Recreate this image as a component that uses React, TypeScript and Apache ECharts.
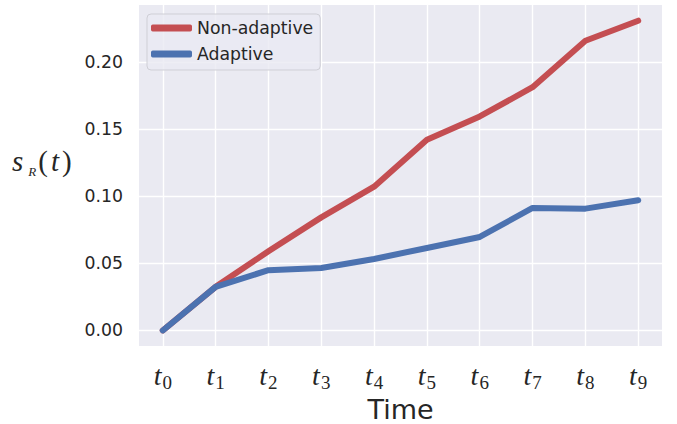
import React, { useEffect, useRef } from "react";
import * as echarts from "echarts";

const timeSteps = [0, 1, 2, 3, 4, 5, 6, 7, 8, 9];
const nonAdaptive = [0, 0.0325, 0.059, 0.0843, 0.1072, 0.1421, 0.1595, 0.1813, 0.216, 0.2309];
const adaptive = [0, 0.0325, 0.0449, 0.0466, 0.0533, 0.0615, 0.0697, 0.0913, 0.0908, 0.097];
const yTicks = [0, 0.05, 0.1, 0.15, 0.2];
const seriesNames = ["Non-adaptive", "Adaptive"];

const TEXT = "#262626";
const SANS = "DejaVu Sans";
const SERIF = "Liberation Serif";

export default function App() {
  const ref = useRef<HTMLDivElement>(null);
  useEffect(() => {
    if (!ref.current) return;
    const chart = echarts.init(ref.current, undefined, { renderer: "svg" });
    const gridLines = [
      ...timeSteps.map((v) => ({ xAxis: v })),
      ...yTicks.map((v) => ({ yAxis: v })),
    ];
    chart.setOption({
      animation: false,
      backgroundColor: "#ffffff",
      grid: {
        left: 139,
        top: 5,
        width: 523,
        height: 341,
        show: true,
        backgroundColor: "#EAEAF2",
        borderWidth: 0,
        containLabel: false,
        outerBoundsMode: "none",
      },
      legend: {
        left: 147,
        top: 14,
        orient: "vertical",
        data: seriesNames,
        icon: "roundRect",
        itemWidth: 41,
        itemHeight: 7,
        itemGap: 6,
        itemTextGap: 16,
        padding: [4, 7, 6, 4],
        backgroundColor: "rgba(234,234,242,0.8)",
        borderColor: "#cfcfd6",
        borderWidth: 1,
        borderRadius: 4,
        textStyle: { fontFamily: SANS, fontSize: 17.3, color: TEXT, lineHeight: 20 },
      },
      xAxis: {
        type: "value",
        min: -0.45,
        max: 9.45,
        name: "Time",
        nameLocation: "middle",
        nameGap: 42,
        nameTextStyle: { fontFamily: SANS, fontSize: 27, color: TEXT },
        axisLine: { show: false },
        axisTick: { show: false },
        splitLine: { show: false },
        axisLabel: {
          customValues: timeSteps,
          margin: 14,
          formatter: (v: number) => `{t|t}{s|${Math.round(v)}}`,
          rich: {
            t: { fontFamily: SERIF, fontStyle: "italic", fontSize: 28, lineHeight: 30, color: TEXT },
            s: { fontFamily: SERIF, fontSize: 19, lineHeight: 19, padding: [14, 0, 0, 1], color: TEXT },
          },
        },
      },
      yAxis: {
        type: "value",
        min: -0.0116,
        max: 0.2426,
        axisLine: { show: false },
        axisTick: { show: false },
        splitLine: { show: false },
        axisLabel: {
          customValues: yTicks,
          margin: 16,
          fontFamily: SANS,
          fontSize: 17.3,
          color: TEXT,
          formatter: (v: number) => v.toFixed(2),
        },
      },
      graphic: [
        {
          type: "text",
          left: 12,
          top: 143,
          style: {
            text: "{s|s}{r|R}{p|(}{t|t}{p|)}",
            rich: {
              s: { fontFamily: SERIF, fontStyle: "italic", fontSize: 29, lineHeight: 32, fill: TEXT, padding: [0, 5, 0, 0] },
              r: { fontFamily: SERIF, fontStyle: "italic", fontSize: 13, lineHeight: 13, padding: [22, 2, 0, 0], fill: TEXT },
              p: { fontFamily: SERIF, fontSize: 29, lineHeight: 32, fill: TEXT },
              t: { fontFamily: SERIF, fontStyle: "italic", fontSize: 29, lineHeight: 32, fill: TEXT, padding: [0, 3, 0, 3] },
            },
          },
        },
      ],
      series: [
        {
          type: "line",
          name: "__grid",
          data: [[0, 0]],
          symbol: "none",
          lineStyle: { opacity: 0 },
          z: 1,
          silent: true,
          markLine: {
            z: 1,
            silent: true,
            symbol: ["none", "none"],
            label: { show: false },
            lineStyle: { color: "#ffffff", width: 1.4, type: "solid" },
            emphasis: { disabled: true },
            data: gridLines,
          },
        },
        {
          type: "line",
          name: seriesNames[0],
          data: timeSteps.map((t, i) => [t, nonAdaptive[i]]),
          symbol: "none",
          color: "#C44E52",
          lineStyle: { width: 6, color: "#C44E52", cap: "round", join: "round" },
          z: 3,
        },
        {
          type: "line",
          name: seriesNames[1],
          data: timeSteps.map((t, i) => [t, adaptive[i]]),
          symbol: "none",
          color: "#4C72B0",
          lineStyle: { width: 6, color: "#4C72B0", cap: "round", join: "round" },
          z: 4,
        },
      ],
    });
    return () => chart.dispose();
  }, []);
  return (
    <div
      ref={ref}
      style={{ position: "fixed", left: 0, top: 0, width: 677, height: 424 }}
    />
  );
}
